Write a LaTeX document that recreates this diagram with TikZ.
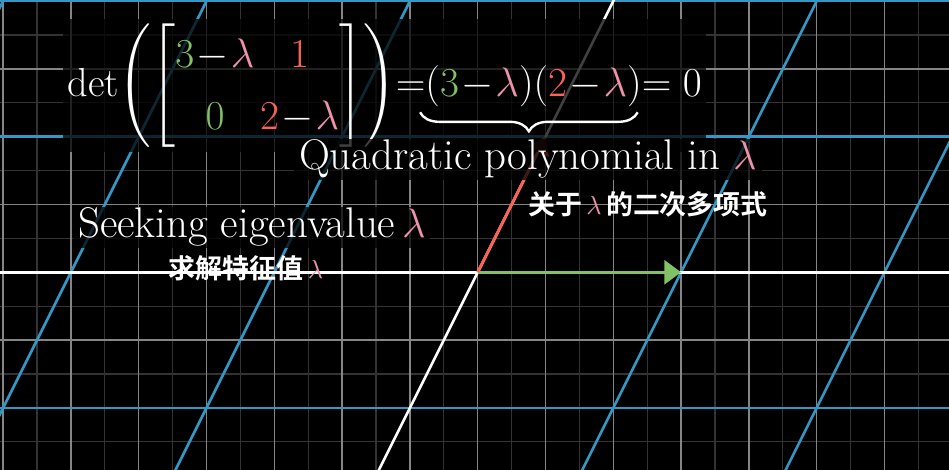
\documentclass[tikz,border=0pt]{standalone}
\usepackage{amsmath}
\usepackage{fontspec}
\newfontfamily\cjk{Noto Sans CJK SC}[BoldFont={Noto Sans CJK SC Bold}]
\usetikzlibrary{arrows.meta, positioning, decorations.pathreplacing}
\definecolor{gridblue}{RGB}{52,152,199}
\definecolor{vecgreen}{RGB}{131,193,103}
\definecolor{vecred}{RGB}{252,98,85}
\definecolor{lampink}{RGB}{236,146,171}
\newcommand{\lam}{\textcolor{lampink}{\lambda}}

\begin{document}
\begin{tikzpicture}[
    formula/.style={text=white, fill=black, fill opacity=0.75, text opacity=1, inner sep=2pt, font=\fontsize{17}{20}\selectfont},
    caption/.style={formula, inner ysep=0.5pt, font=\fontsize{18}{21}\selectfont},
    subtitle/.style={text=white, font=\cjk\bfseries\fontsize{11.3}{13}\selectfont, inner sep=0pt},
    blueline/.style={gridblue, line width=1.1pt},
    axisline/.style={white, line width=1.1pt},
    vector/.style={line width=1.2pt, -{Triangle[length=7pt,width=10pt]}}
]
% Background and frame
\fill[black] (-7.046,-2.916) rectangle (6.951,4.016);
\useasboundingbox (-7.046,-2.916) rectangle (6.951,4.016);
\clip (-7.046,-2.916) rectangle (6.951,4.016);

% Fixed background grid
\draw[white!20!black, line width=0.5pt] (-7.5,-3.5) grid[step=0.5] (7.5,4.5);
\draw[white!52!black, line width=0.6pt] (-8,-3) grid[step=1] (8,5);

% Transformed grid
\foreach \k in {-2,-1,1,2}
    \draw[blueline] (-8,2*\k) -- (8,2*\k);
\foreach \k in {-4,-3,-2,-1,1,2,3}
    \draw[blueline] ({3*\k-1.75},-3.5) -- ({3*\k+2.25},4.5);

% Axes
\draw[axisline] (-8,0) -- (8,0);
\draw[axisline] (-1.75,-3.5) -- (2.25,4.5);

% Basis vectors
\coordinate (O) at (0,0);
\coordinate (ihat) at (3,0);
\coordinate (jhat) at (1,2);
\draw[vector, vecgreen] (O) -- (ihat);
\draw[vector, vecred] (O) -- (jhat);

% Formula
\node[formula, anchor=base west] (det) at (-6.13,2.6)
    {\medmuskip=1mu\arraycolsep=1.2pt\renewcommand{\arraystretch}{1.3}%
     $\mathrm{det}\!\left(\begin{bmatrix} \textcolor{vecgreen}{3}-\lam & \textcolor{vecred}{1}\\ \textcolor{vecgreen}{0} & \textcolor{vecred}{2}-\lam \end{bmatrix}\right)\!{=}(\textcolor{vecgreen}{3}-\lam)(\textcolor{vecred}{2}-\lam){=}\;0$};
\coordinate (braceL) at (-0.85,2.36);
\coordinate (braceR) at (2.36,2.36);
\draw[white, line width=1pt, decorate, decoration={brace, amplitude=8pt}] (braceR) -- (braceL);

% Labels
\node[caption, anchor=base] (quad) at (0.74,1.51) {Quadratic polynomial in $\lam$};
\node[subtitle] (quadcn) at (2.51,1.007) {关于\,$\lam$\,的二次多项式};
\node[caption, anchor=base] (seek) at (-3.33,0.506) {Seeking eigenvalue$\,\lam$};
\node[subtitle] (seekcn) at (-3.42,0.056) {求解特征值\,$\lam$};
\end{tikzpicture}
\end{document}
